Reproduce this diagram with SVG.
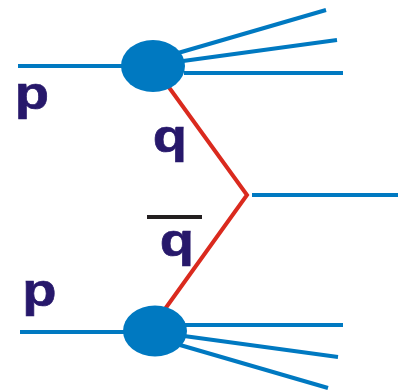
<svg xmlns="http://www.w3.org/2000/svg" width="398" height="391" viewBox="0 0 398 391">
<style>
.b{stroke:#0079c1;stroke-width:4;fill:none}
.r{stroke:#da2a1e;stroke-width:4;fill:none}
.t{font-family:"Liberation Sans",Arial,sans-serif;font-weight:bold;font-size:46px;fill:#27186b;text-anchor:middle;stroke:#27186b;stroke-width:0.6}
</style>
<rect width="398" height="391" fill="#fff"/>
<g id="connectors">
<path class="r" d="M168,86 L247,195 L165,309"/>
<line class="b" x1="18" y1="66" x2="122" y2="66"/>
<line class="b" x1="178" y1="53" x2="326" y2="10"/>
<line class="b" x1="183" y1="61" x2="337" y2="40"/>
<line class="b" x1="184" y1="73" x2="343" y2="73"/>
<line class="b" x1="252" y1="195" x2="398" y2="195"/>
<line class="b" x1="20" y1="332" x2="124" y2="332"/>
<line class="b" x1="185" y1="325" x2="343" y2="325"/>
<line class="b" x1="184" y1="336" x2="338" y2="357"/>
<line class="b" x1="180" y1="345" x2="328" y2="388"/>
</g>
<g id="proton-top"><ellipse cx="153" cy="66" rx="32" ry="26" fill="#0079c1"/></g>
<g id="proton-bottom"><ellipse cx="155" cy="331" rx="32" ry="25.5" fill="#0079c1"/></g>
<g id="labels">
<text class="t" transform="translate(32,109) scale(1.22,1)">p</text>
<text class="t" transform="translate(170,152) scale(1.22,1)">q</text>
<line x1="147" y1="217" x2="202" y2="217" stroke="#231f20" stroke-width="4"/>
<text class="t" transform="translate(177,256) scale(1.22,1)">q</text>
<text class="t" transform="translate(39.5,306) scale(1.22,1)">p</text>
</g>
</svg>
